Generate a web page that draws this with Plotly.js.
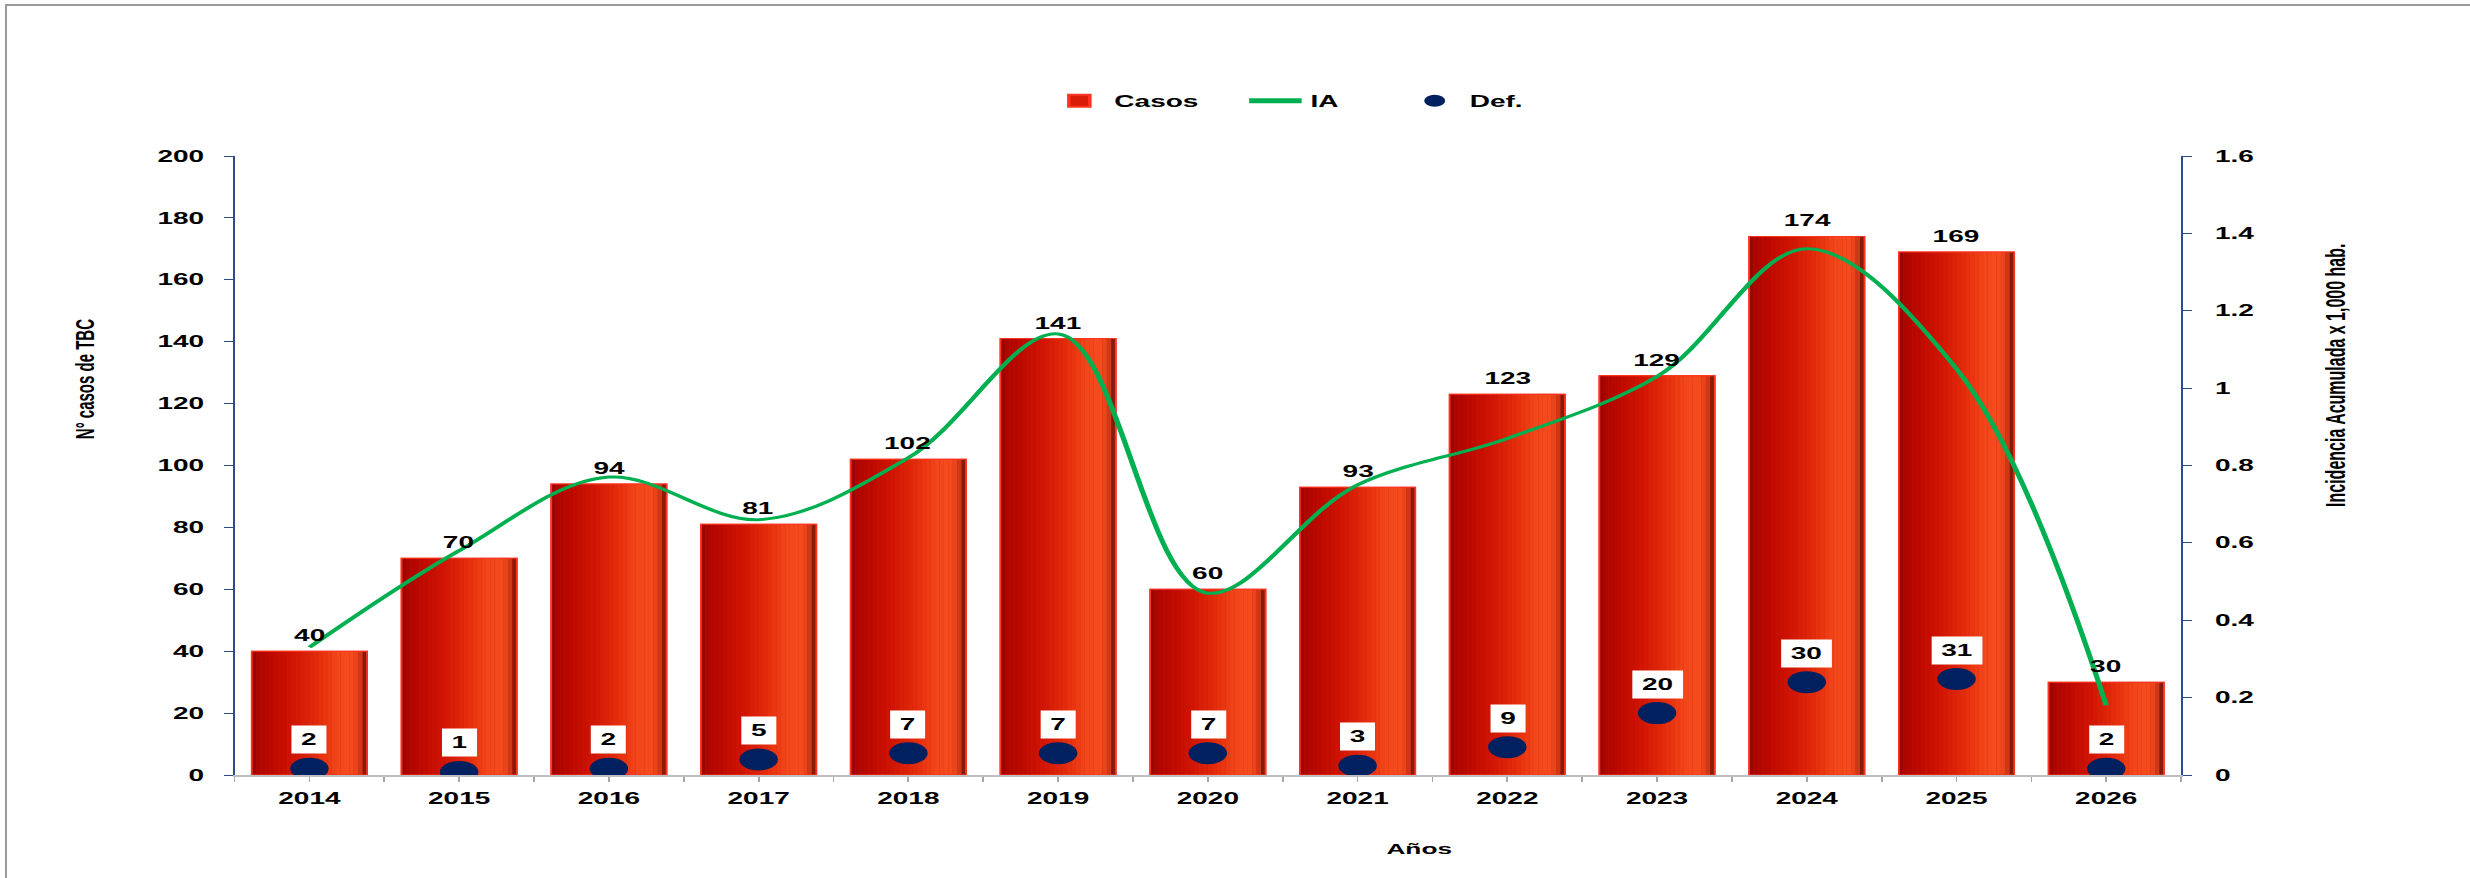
<!DOCTYPE html>
<html>
<head>
<meta charset="utf-8">
<script src="https://cdn.plot.ly/plotly-3.0.1.min.js"></script>
<style>
  html, body { margin: 0; padding: 0; background: #fff; overflow: hidden; }
  #stage { position: relative; width: 2470px; height: 878px; overflow: hidden; }
  #chart { position: absolute; left: 0; top: 0; width: 1411px; height: 878px;
           transform: scaleX(1.7505); transform-origin: 0 0; }
  #frame { position: absolute; left: 5px; top: 4px; width: 2480px; height: 900px;
           border-left: 2px solid #9a9a9a; border-top: 2px solid #9a9a9a;
           pointer-events: none; z-index: 5; }
</style>
</head>
<body>
<div id="stage">
  <div id="chart"></div>
  <div id="frame"></div>
</div>
<script>
// ---- data ----
const years = [2014, 2015, 2016, 2017, 2018, 2019, 2020, 2021, 2022, 2023, 2024, 2025, 2026];
const casos = [40, 70, 94, 81, 102, 141, 60, 93, 123, 129, 174, 169, 30];
const ia    = [0.33, 0.58, 0.77, 0.66, 0.82, 1.14, 0.47, 0.75, 0.87, 1.03, 1.36, 1.05, 0.18];
const def   = [2, 1, 2, 5, 7, 7, 7, 3, 9, 20, 30, 31, 2];

const seriesNames = { casos: 'Casos', ia: 'IA', def: 'Def.' };
const titles = {
  x: 'Años',
  y: 'N° casos de TBC',
  y2: 'Incidencia Acumulada x 1,000 hab.'
};

// ---- style ----
const FONT = 'Liberation Sans, Arial, sans-serif';
const BW = 0.77;
// horizontal shading across each bar (fraction of bar width -> colour)
const gradStops = [
  [0.00, [0x8E, 0x05, 0x00]],
  [0.04, [0xA8, 0x06, 0x00]],
  [0.15, [0xBA, 0x08, 0x00]],
  [0.35, [0xCE, 0x13, 0x03]],
  [0.55, [0xE1, 0x2A, 0x0A]],
  [0.74, [0xF2, 0x46, 0x1A]],
  [0.86, [0xF5, 0x4C, 0x1E]],
  [0.93, [0xE2, 0x40, 0x1A]],
  [0.965, [0xA8, 0x2A, 0x0E]],
  [1.00, [0x5A, 0x0C, 0x04]]
];
const NSTRIP = 26;
function gradColor(f) {
  for (let k = 1; k < gradStops.length; k++) {
    const a = gradStops[k - 1], b = gradStops[k];
    if (f <= b[0]) {
      const t = (f - a[0]) / (b[0] - a[0]);
      const c = a[1].map((v, j) => Math.round(v + (b[1][j] - v) * t));
      return 'rgb(' + c.join(',') + ')';
    }
  }
  return 'rgb(' + gradStops[gradStops.length - 1][1].join(',') + ')';
}

const n = years.length;
const fill = v => Array(n).fill(v);

const traces = [];
// base bar (legend entry)
traces.push({
  type: 'bar', name: seriesNames.casos, x: years, y: casos,
  width: fill(BW), offset: fill(-BW / 2),
  marker: { color: '#D81C05', line: { color: '#FF3322', width: 1 } },
  hoverinfo: 'skip', showlegend: true, legendwidth: 67
});
for (let k = 0; k < NSTRIP; k++) {
  const f0 = k / NSTRIP, f1 = (k + 1) / NSTRIP;
  traces.push({
    type: 'bar', x: years, y: casos,
    width: fill(BW * (f1 - f0) * 1.02), offset: fill(-BW / 2 + BW * f0),
    marker: { color: gradColor((f0 + f1) / 2), line: { width: 0 } },
    hoverinfo: 'skip', showlegend: false
  });
}
// outline on top
traces.push({
  type: 'bar', x: years, y: casos,
  width: fill(BW), offset: fill(-BW / 2),
  marker: { color: 'rgba(0,0,0,0)', line: { color: '#FF3322', width: 1 } },
  hoverinfo: 'skip', showlegend: false
});
// IA line
traces.push({
  type: 'scatter', mode: 'lines', name: seriesNames.ia, x: years, y: ia, yaxis: 'y2',
  line: { color: '#00B050', width: 3, shape: 'spline', smoothing: 1 },
  hoverinfo: 'skip', legendwidth: 46
});
// Def markers
traces.push({
  type: 'scatter', mode: 'markers', name: seriesNames.def, x: years, y: def,
  marker: { color: '#002060', size: 22, line: { width: 0 } },
  hoverinfo: 'skip'
});

const annotations = [];
years.forEach((yr, i) => {
  annotations.push({
    x: yr, y: casos[i], xref: 'x', yref: 'y', text: String(casos[i]),
    showarrow: false, yanchor: 'bottom', yshift: 5,
    font: { family: FONT, size: 16, color: '#000', weight: 'bold' }
  });
  annotations.push({
    x: yr, y: def[i], xref: 'x', yref: 'y', text: String(def[i]),
    showarrow: false, yanchor: 'middle', yshift: 29,
    bgcolor: '#FFFFFF', borderpad: 5,
    font: { family: FONT, size: 16, color: '#000', weight: 'bold' }
  });
});
annotations.push({
  xref: 'paper', yref: 'paper', x: 0.6086, y: -0.1195, xanchor: 'center', yanchor: 'middle',
  text: titles.x, showarrow: false,
  font: { family: FONT, size: 15, color: '#000', weight: 'bold' }
});
annotations.push({
  xref: 'paper', yref: 'paper', x: -0.077, y: 0.64, xanchor: 'center', yanchor: 'middle',
  text: titles.y, showarrow: false, textangle: -90,
  font: { family: FONT, size: 15, color: '#000', weight: 'bold' }
});
annotations.push({
  xref: 'paper', yref: 'paper', x: 1.0794, y: 0.6467, xanchor: 'center', yanchor: 'middle',
  text: titles.y2, showarrow: false, textangle: -90,
  font: { family: FONT, size: 16, color: '#000', weight: 'bold' }
});

const NAVY = '#2C4A8C';
const tickFont = { family: FONT, size: 16, color: '#000', weight: 'bold' };

const layout = {
  width: 1411, height: 878,
  margin: { l: 134, r: 165, t: 156, b: 103 },
  paper_bgcolor: '#FFFFFF', plot_bgcolor: '#FFFFFF',
  font: { family: FONT },
  barmode: 'overlay',
  hovermode: false,
  showlegend: true,
  legend: {
    orientation: 'h', x: 0.416, xanchor: 'left', y: 1.089, yanchor: 'middle',
    font: { family: FONT, size: 16, color: '#000', weight: 'bold' },
    itemsizing: 'constant', bgcolor: 'rgba(0,0,0,0)', traceorder: 'normal'
  },
  xaxis: {
    range: [2013.5, 2026.5], tickmode: 'linear', tick0: 2014, dtick: 1, tickformat: 'd',
    showgrid: false, zeroline: false,
    showline: true, linecolor: '#BFBFBF', linewidth: 2,
    ticks: 'outside', ticklen: 5, tickcolor: '#A6A6A6', tickwidth: 1,
    minor: { tick0: 2013.5, dtick: 1, ticks: 'outside', ticklen: 5, tickcolor: '#A6A6A6', showgrid: false },
    tickfont: tickFont, ticklabelstandoff: 3
  },
  yaxis: {
    range: [0, 200], dtick: 20, tickmode: 'linear', tick0: 0,
    showgrid: false, zeroline: false,
    showline: true, linecolor: NAVY, linewidth: 1.3,
    ticks: 'outside', ticklen: 5, tickcolor: NAVY,
    tickfont: tickFont, ticklabelstandoff: 8
  },
  yaxis2: {
    range: [0, 1.6], dtick: 0.2, tickmode: 'linear', tick0: 0,
    overlaying: 'y', side: 'right',
    showgrid: false, zeroline: false,
    showline: true, linecolor: NAVY, linewidth: 1.3,
    ticks: 'outside', ticklen: 5, tickcolor: NAVY,
    tickfont: tickFont, ticklabelstandoff: 10
  },
  annotations: annotations
};

Plotly.newPlot('chart', traces, layout, { displayModeBar: false, responsive: false });
</script>
</body>
</html>
